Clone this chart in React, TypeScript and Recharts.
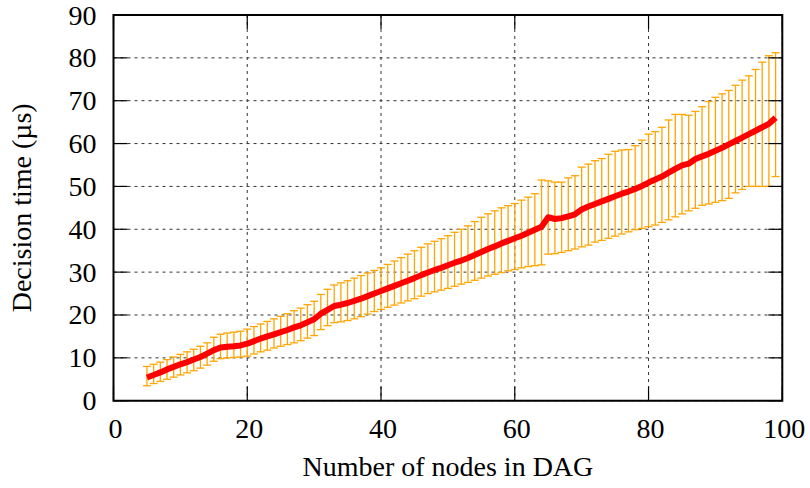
import React from 'react';
import { LineChart, Line, XAxis, YAxis, CartesianGrid, ErrorBar, ReferenceArea, Label } from 'recharts';

// number of nodes in the DAG (x)
const nodes = [
  5, 6, 7, 8, 9, 10, 11, 12, 13, 14, 15, 16, 17, 18, 19, 20, 21, 22, 23, 24,
  25, 26, 27, 28, 29, 30, 31, 32, 33, 34, 35, 36, 37, 38, 39, 40, 41, 42, 43, 44,
  45, 46, 47, 48, 49, 50, 51, 52, 53, 54, 55, 56, 57, 58, 59, 60, 61, 62, 63, 64,
  65, 66, 67, 68, 69, 70, 71, 72, 73, 74, 75, 76, 77, 78, 79, 80, 81, 82, 83, 84,
  85, 86, 87, 88, 89, 90, 91, 92, 93, 94, 95, 96, 97, 98, 99,
];

// mean decision time (µs)
const meanTime = [
  5.4, 6.0, 6.6, 7.3, 7.9, 8.5, 9.0, 9.6, 10.2, 11.0, 11.8, 12.4, 12.6, 12.7, 12.9, 13.3, 13.9, 14.5, 15.0, 15.5,
  16.0, 16.5, 17.1, 17.6, 18.3, 19.0, 20.3, 21.2, 22.1, 22.4, 22.8, 23.3, 23.8, 24.4, 25.0, 25.6, 26.2, 26.8, 27.4, 28.0,
  28.6, 29.3, 29.9, 30.5, 31.0, 31.6, 32.2, 32.7, 33.3, 34.0, 34.7, 35.4, 36.0, 36.7, 37.3, 37.9, 38.5, 39.2, 39.9, 40.6,
  42.8, 42.4, 42.6, 43.0, 43.5, 44.6, 45.3, 45.9, 46.5, 47.1, 47.7, 48.3, 48.8, 49.4, 50.1, 50.9, 51.6, 52.3, 53.2, 54.1,
  54.9, 55.3, 56.4, 57.0, 57.6, 58.3, 59.0, 59.8, 60.6, 61.4, 62.2, 63.0, 63.8, 64.6, 66.0,
];

// top of the error bar
const upperTime = [
  8.0, 8.5, 9.0, 9.6, 10.2, 10.8, 11.4, 12.0, 12.7, 13.5, 14.8, 15.5, 15.8, 16.0, 16.2, 16.7, 17.3, 17.9, 18.5, 19.1,
  19.7, 20.3, 21.0, 21.6, 22.4, 23.2, 24.8, 26.0, 27.0, 27.5, 28.0, 28.6, 29.2, 29.8, 30.4, 31.0, 31.8, 32.6, 33.4, 34.2,
  35.0, 35.8, 36.6, 37.2, 37.8, 38.5, 39.3, 40.0, 40.8, 41.8, 42.8, 43.6, 44.3, 45.0, 45.5, 46.0, 46.8, 47.5, 48.3, 51.5,
  51.3, 51.0, 51.0, 52.0, 52.5, 54.5, 55.2, 56.0, 56.5, 57.5, 58.2, 58.5, 58.6, 59.5, 60.8, 62.2, 62.8, 63.8, 65.5, 66.8,
  66.8, 66.6, 67.5, 68.6, 69.8, 70.8, 71.6, 72.4, 73.6, 74.8, 75.8, 77.3, 79.0, 80.5, 81.2,
];

// bottom of the error bar
const lowerTime = [
  3.5, 4.0, 4.5, 5.0, 5.5, 6.0, 6.5, 7.0, 7.6, 8.3, 9.2, 9.8, 10.0, 10.1, 10.2, 10.4, 10.9, 11.4, 11.8, 12.3,
  12.7, 13.1, 13.5, 14.0, 14.6, 15.2, 16.6, 17.5, 18.2, 18.4, 18.7, 19.1, 19.6, 20.2, 20.8, 21.3, 21.8, 22.3, 22.8, 23.3,
  23.8, 24.4, 25.0, 25.4, 25.8, 26.2, 26.7, 27.2, 27.6, 28.1, 28.6, 29.1, 29.5, 29.9, 30.3, 30.6, 31.0, 31.3, 31.5, 31.7,
  34.2, 34.3, 34.6, 35.0, 35.4, 35.9, 36.3, 37.0, 37.4, 37.9, 38.4, 38.9, 39.4, 39.9, 40.2, 40.6, 41.0, 41.6, 42.2, 42.9,
  43.6, 44.3, 44.9, 45.6, 45.9, 46.3, 46.7, 47.2, 48.5, 49.3, 50.0, 50.0, 50.0, 50.0, 52.3,
];

const xTicks = [0, 20, 40, 60, 80, 100];
const yTicks = [0, 10, 20, 30, 40, 50, 60, 70, 80, 90];

const W = 810;
const H = 488;
const MARGIN = { top: 15, right: 27.7, bottom: 0, left: 0 };
const Y_AXIS_W = 113.5;
const X_AXIS_H = 87.3;
const PLOT_LEFT = MARGIN.left + Y_AXIS_W;
const PLOT_RIGHT = W - MARGIN.right;
const PLOT_TOP = MARGIN.top;
const PLOT_BOTTOM = H - MARGIN.bottom - X_AXIS_H;
const TICK_LEN = 14;
const FONT = '"Liberation Serif", "Times New Roman", serif';

const data = nodes.map((n, i) => ({
  n,
  mean: meanTime[i],
  err: [+(meanTime[i] - lowerTime[i]).toFixed(2), +(upperTime[i] - meanTime[i]).toFixed(2)],
}));

const YTick = (props: any) => {
  const { y, payload } = props;
  return (
    <g>
      <line x1={PLOT_LEFT} x2={PLOT_LEFT + TICK_LEN} y1={y} y2={y} stroke="#000" strokeWidth={1.2} />
      <line x1={PLOT_RIGHT - TICK_LEN} x2={PLOT_RIGHT} y1={y} y2={y} stroke="#000" strokeWidth={1.2} />
      <text x={PLOT_LEFT - 17} y={y} dy={9.5} textAnchor="end" fontSize={28} fontFamily={FONT} fill="#000">
        {payload.value}
      </text>
    </g>
  );
};

const XTick = (props: any) => {
  const { x, payload } = props;
  return (
    <g>
      <line x1={x} x2={x} y1={PLOT_BOTTOM - TICK_LEN} y2={PLOT_BOTTOM} stroke="#000" strokeWidth={1.2} />
      <line x1={x} x2={x} y1={PLOT_TOP} y2={PLOT_TOP + TICK_LEN} stroke="#000" strokeWidth={1.2} />
      <text x={x + 2} y={PLOT_BOTTOM + 37} textAnchor="middle" fontSize={28} fontFamily={FONT} fill="#000">
        {payload.value}
      </text>
    </g>
  );
};

const XLabel = (props: any) => {
  const vb = props.viewBox;
  return (
    <text x={vb.x + vb.width / 2} y={vb.y + 75} textAnchor="middle" fontSize={28} fontFamily={FONT} fill="#000">
      Number of nodes in DAG
    </text>
  );
};

const YLabel = (props: any) => {
  const vb = props.viewBox;
  const cy = vb.y + vb.height / 2;
  return (
    <text
      x={31}
      y={cy}
      transform={`rotate(-90 31 ${cy})`}
      textAnchor="middle"
      fontSize={28}
      fontFamily={FONT}
      fill="#000"
    >
      Decision time (µs)
    </text>
  );
};

export default function App() {
  return (
    <div style={{ position: 'absolute', left: 0, top: 0, width: W, height: H, background: '#fff' }}>
      <LineChart width={W} height={H} data={data} margin={MARGIN}>
        <CartesianGrid stroke="#333" strokeDasharray="3 4" strokeWidth={1} />
        <XAxis
          dataKey="n"
          type="number"
          domain={[0, 100]}
          ticks={xTicks}
          height={X_AXIS_H}
          axisLine={false}
          tickLine={false}
          tick={<XTick />}
          interval={0}
        >
          <Label content={<XLabel />} />
        </XAxis>
        <YAxis
          type="number"
          domain={[0, 90]}
          ticks={yTicks}
          width={Y_AXIS_W}
          axisLine={false}
          tickLine={false}
          tick={<YTick />}
          interval={0}
        >
          <Label content={<YLabel />} />
        </YAxis>
        <Line dataKey="mean" stroke="none" dot={false} isAnimationActive={false} legendType="none">
          <ErrorBar dataKey="err" direction="y" width={4} stroke="#FFA500" strokeWidth={1.3} isAnimationActive={false} />
        </Line>
        <Line
          dataKey="mean"
          type="linear"
          stroke="#FF0000"
          strokeWidth={6}
          strokeLinejoin="round"
          dot={false}
          isAnimationActive={false}
        />
        <ReferenceArea x1={0} x2={100} y1={0} y2={90} fill="none" stroke="#000" strokeWidth={2} ifOverflow="visible" />
      </LineChart>
    </div>
  );
}
